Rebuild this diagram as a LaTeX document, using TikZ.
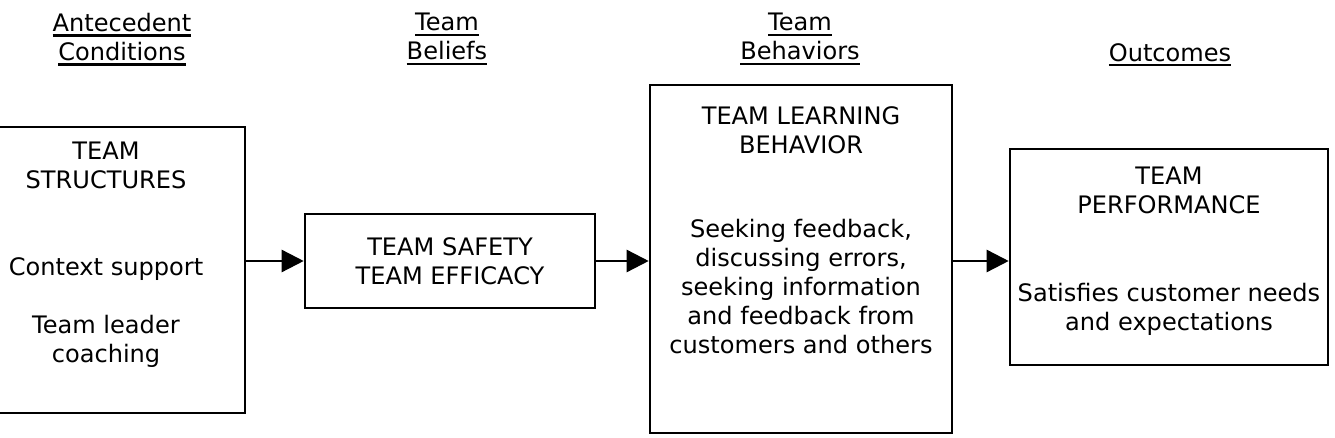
\documentclass[tikz,border=0pt]{standalone}
\usepackage{fontspec}
\setmainfont{DejaVu Sans}
\usetikzlibrary{positioning,arrows.meta}
\newcommand{\hdrule}[1]{\leavevmode\setbox0=\hbox{#1}\rlap{\rule[-2.8pt]{\wd0}{1.2pt}}\box0}
\tikzset{
  box/.style={draw, line width=1.5pt, inner sep=0pt},
  lbl/.style={align=center, inner sep=0pt, font=\fontsize{13.7pt}{16.5pt}\selectfont},
  flow/.style={line width=1.4pt, -{Triangle[length=0.44cm,width=0.44cm]}}
}
\begin{document}
\begin{tikzpicture}[x=0.02cm, y=-0.02cm]
  \useasboundingbox (0,0) rectangle (1335,438);
  % column headings
  \node[lbl, anchor=north] (h1) at (122,13) {\hdrule{Antecedent}\\\hdrule{Conditions}};
  \node[lbl, anchor=north] (h2) at (447,13) {\hdrule{Team}\\\hdrule{Beliefs}};
  \node[lbl, anchor=north] (h3) at (800,13) {\hdrule{Team}\\\hdrule{Behaviors}};
  \node[lbl, anchor=north] (h4) at (1170,43) {\hdrule{Outcomes}};
  % boxes
  \node[box, minimum width=5.56cm, minimum height=5.72cm] (b1) at (106,270) {};
  \node[box, lbl, minimum width=5.8cm, minimum height=1.88cm] (b2) at (450,261) {TEAM SAFETY\\TEAM EFFICACY};
  \node[box, minimum width=6.04cm, minimum height=6.96cm] (b3) at (801,259) {};
  \node[box, minimum width=6.36cm, minimum height=4.32cm] (b4) at (1169,257) {};
  % texts inside the boxes
  \node[lbl, below=0.31cm of b1.north] (t1) {TEAM\\STRUCTURES};
  \node[lbl, below=1.38cm of t1] (s1) {Context support\\[16.5pt]Team leader\\coaching};
  \node[lbl, below=0.45cm of b3.north] (t3) {TEAM LEARNING\\BEHAVIOR};
  \node[lbl, below=1.3cm of t3] (s3) {Seeking feedback,\\discussing errors,\\seeking information\\and feedback from\\customers and others};
  \node[lbl, below=0.37cm of b4.north] (t4) {TEAM\\PERFORMANCE};
  \node[lbl, below=1.38cm of t4] (s4) {Satisfies customer needs\\and expectations};
  % arrows
  \draw[flow] (b1.east |- b2.west) -- (b2.west);
  \draw[flow] (b2.east) -- (b2.east -| b3.west);
  \draw[flow] (b2.east -| b3.east) -- (b2.east -| b4.west);
\end{tikzpicture}
\end{document}
